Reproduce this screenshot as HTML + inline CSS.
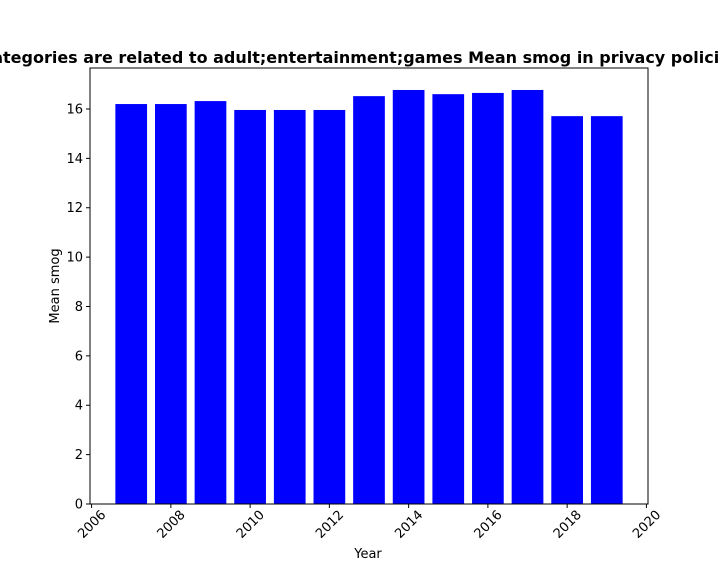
<!DOCTYPE html>
<html><head><meta charset="utf-8"><style>
html,body{margin:0;padding:0;background:#fff;}
svg{display:block;font-family:"DejaVu Sans","Liberation Sans",sans-serif;}
</style></head><body>
<svg id="chart" width="720" height="576">
<text x="360" y="63" text-anchor="middle" font-size="16" font-weight="bold">Categories are related to adult;entertainment;games Mean smog in privacy policies</text>
<g id="bars"></g>
<g id="axes"></g>
<text x="368" y="558" text-anchor="middle" font-size="13">Year</text>
<text transform="translate(59,286) rotate(-90)" text-anchor="middle" font-size="13">Mean smog</text>
</svg>
<script>
const years = [2007,2008,2009,2010,2011,2012,2013,2014,2015,2016,2017,2018,2019];
const values = [16.2,16.2,16.32,15.96,15.96,15.96,16.52,16.77,16.6,16.65,16.77,15.71,15.71];
const xTicks = [2006,2008,2010,2012,2014,2016,2018,2020];
const yTicks = [0,2,4,6,8,10,12,14,16];
const L=90,R=648,T=68,B=504;
const xMin=2005.96,xMax=2020.04,yMax=17.66;
const NS="http://www.w3.org/2000/svg";
const xs=v=>L+(v-xMin)/(xMax-xMin)*(R-L);
const ys=v=>B-v/yMax*(B-T);
const bars=document.getElementById('bars'), axes=document.getElementById('axes');
function mk(tag,attrs,parent){const e=document.createElementNS(NS,tag);for(const k in attrs)e.setAttribute(k,attrs[k]);parent.appendChild(e);return e;}
years.forEach((y,i)=>{
  const x0=xs(y-0.4),x1=xs(y+0.4);
  const r=mk('rect',{x:x0,y:ys(values[i]),width:x1-x0,height:B-ys(values[i]),fill:'#0000ff'},bars);
  
  
});
const frame=mk('rect',{x:L,y:T,width:R-L,height:B-T,fill:'none',stroke:'#000','stroke-width':1},axes);


xTicks.forEach(t=>{
  const x=xs(t);
  mk('line',{x1:x,x2:x,y1:B,y2:B+4,stroke:'#000'},axes);
  const tx=mk('text',{x:0,y:4.5,'font-size':13,'text-anchor':'middle',transform:`translate(${x},${B+20}) rotate(-45)`},axes);
  tx.textContent=t;
  
  
});
yTicks.forEach(t=>{
  const y=ys(t);
  mk('line',{x1:L-4,x2:L,y1:y,y2:y,stroke:'#000'},axes);
  const tx=mk('text',{x:L-7,y:y+4.5,'font-size':13,'text-anchor':'end'},axes);
  tx.textContent=t;
  
  
});
</script>
</body></html>
